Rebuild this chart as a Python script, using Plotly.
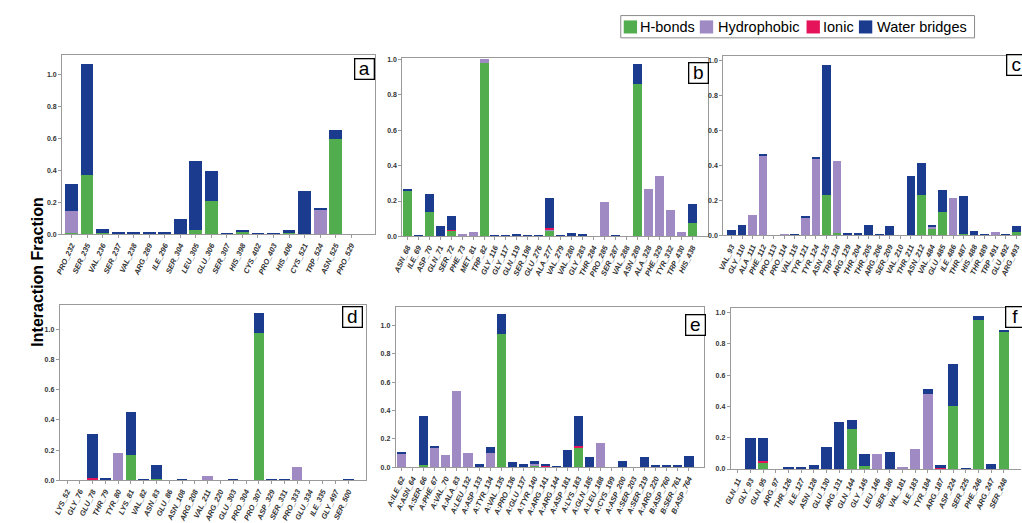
import plotly.graph_objects as go

W, H = 1022, 523

# ---- panel a ----
a_res = ["PRO_232", "SER_235", "VAL_236", "SER_237", "VAL_238", "ARG_289", "ILE_296", "SER_304",
         "LEU_305", "GLU_306", "SER_307", "HIS_398", "CYS_402", "PRO_403", "HIS_406", "CYS_521",
         "TRP_524", "ASN_525", "PRO_529"]
a_hb = [0.005, 0.373, 0.008, 0, 0, 0, 0, 0.004, 0.028, 0.21, 0, 0.018, 0, 0, 0.008, 0, 0, 0.593, 0]
a_hyd = [0.14, 0, 0, 0, 0, 0, 0, 0, 0, 0, 0, 0, 0, 0, 0, 0, 0.153, 0, 0]
a_ion = [0] * 19
a_wb = [0.172, 0.69, 0.026, 0.01, 0.008, 0.008, 0.01, 0.09, 0.43, 0.187, 0.004, 0.006, 0.003, 0.003,
        0.02, 0.268, 0.008, 0.056, 0]

# ---- panel b ----
b_res = ["ASN_68", "ILE_69", "ASP_70", "GLN_71", "SER_72", "PHE_73", "MET_81", "TRP_82", "GLY_116",
         "GLY_117", "GLN_119", "SER_198", "GLU_276", "ALA_277", "VAL_279", "VAL_280", "GLY_283",
         "THR_284", "PRO_285", "SER_287", "VAL_288", "ASN_289", "ALA_328", "PHE_329", "TYR_332",
         "TRP_430", "HIS_438"]
b_hb = [0.258, 0, 0.14, 0, 0.031, 0, 0, 0.982, 0, 0, 0, 0, 0, 0.031, 0, 0, 0, 0, 0, 0, 0, 0.862,
        0, 0, 0, 0, 0.077]
b_hyd = [0, 0, 0, 0, 0, 0.015, 0.027, 0.018, 0, 0, 0, 0, 0, 0.008, 0, 0, 0, 0, 0.195, 0, 0, 0,
         0.266, 0.344, 0.149, 0.027, 0]
b_ion = [0, 0, 0, 0, 0.006, 0, 0, 0, 0, 0, 0, 0, 0, 0.01, 0, 0, 0, 0, 0, 0, 0, 0, 0, 0, 0, 0, 0]
b_wb = [0.008, 0.008, 0.099, 0.057, 0.081, 0, 0, 0, 0.006, 0.004, 0.013, 0.008, 0.008, 0.168,
        0.004, 0.018, 0.014, 0, 0, 0.004, 0, 0.11, 0, 0, 0, 0, 0.109]

# ---- panel c ----
c_res = ["VAL_93", "GLY_110", "ALA_111", "PHE_112", "PRO_113", "PRO_114", "VAL_115", "TYR_121",
         "TYR_124", "ASN_125", "TRP_128", "ARG_129", "THR_204", "THR_205", "ARG_206", "SER_209",
         "VAL_210", "THR_211", "ASN_212", "VAL_484", "GLU_485", "ILE_486", "THR_487", "HIS_488",
         "THR_489", "TRP_491", "GLU_492", "ARG_493"]
c_hb = [0, 0, 0, 0, 0, 0, 0, 0, 0.003, 0.232, 0.017, 0, 0, 0, 0, 0, 0, 0, 0.23, 0.039, 0.134, 0,
        0.006, 0, 0, 0, 0, 0.022]
c_hyd = [0, 0, 0.116, 0.458, 0, 0.004, 0, 0.098, 0.433, 0, 0.407, 0, 0, 0, 0, 0, 0, 0, 0, 0.011,
         0, 0.215, 0, 0, 0, 0.02, 0, 0]
c_ion = [0] * 28
c_wb = [0.03, 0.06, 0, 0.01, 0, 0, 0.006, 0.014, 0.01, 0.74, 0, 0.012, 0.016, 0.06, 0.009, 0.052,
        0, 0.337, 0.186, 0.011, 0.128, 0, 0.219, 0.026, 0.006, 0, 0.008, 0.035]

# ---- panel d ----
d_res = ["LYS_52", "GLY_76", "GLU_78", "THR_79", "TYR_80", "LYS_81", "VAL_82", "ASN_83", "GLU_86",
         "ASN_108", "ARG_208", "VAL_211", "ARG_220", "GLU_303", "PRO_304", "PRO_307", "ASP_329",
         "SER_331", "PRO_333", "GLU_334", "ILE_335", "GLY_497", "SER_500"]
d_hb = [0, 0, 0.01, 0, 0, 0.169, 0, 0.006, 0, 0, 0, 0, 0, 0, 0, 0.974, 0, 0.004, 0, 0, 0, 0, 0]
d_hyd = [0, 0, 0, 0, 0.184, 0, 0, 0, 0, 0, 0, 0.028, 0, 0, 0, 0, 0, 0, 0.086, 0, 0, 0, 0]
d_ion = [0, 0, 0.004, 0, 0, 0, 0, 0, 0, 0, 0, 0, 0, 0, 0, 0, 0, 0, 0, 0, 0, 0, 0]
d_wb = [0.004, 0.004, 0.292, 0.012, 0, 0.283, 0.01, 0.092, 0.004, 0.006, 0.004, 0, 0.003, 0.006,
        0, 0.139, 0.005, 0.006, 0, 0.003, 0, 0.003, 0.005]

# ---- panel e ----
e_res = ["A:ILE_62", "A:ASN_64", "A:SER_66", "A:PHE_67", "A:VAL_70", "A:ALA_83", "A:LEU_132",
         "A:ASP_133", "A:TYR_134", "A:VAL_135", "A:PRO_136", "A:GLU_137", "A:TYR_140", "A:ARG_141",
         "A:ARG_144", "A:ASP_181", "A:LYS_183", "A:GLN_185", "A:LEU_188", "A:CYS_199", "A:ASP_200",
         "A:SER_203", "A:SER_219", "A:ARG_220", "B:ASP_760", "B:SER_761", "B:ASP_764"]
e_hb = [0, 0, 0.016, 0, 0, 0, 0, 0, 0, 0.941, 0, 0, 0.007, 0, 0, 0, 0.143, 0, 0, 0, 0, 0, 0, 0,
        0, 0, 0.006]
e_hyd = [0.1, 0, 0, 0.138, 0.089, 0.536, 0.098, 0, 0.1, 0, 0, 0, 0.016, 0, 0.006, 0, 0, 0, 0.173,
         0, 0, 0, 0, 0, 0, 0, 0]
e_ion = [0, 0, 0, 0, 0, 0, 0, 0, 0, 0, 0, 0, 0, 0.01, 0, 0, 0.005, 0, 0, 0, 0, 0, 0, 0, 0, 0, 0]
e_wb = [0.003, 0, 0.348, 0.008, 0, 0, 0, 0.025, 0.043, 0.141, 0.039, 0.023, 0.02, 0.017, 0.004,
        0.125, 0.213, 0.073, 0, 0, 0.043, 0, 0.07, 0.018, 0.014, 0.016, 0.071]

# ---- panel f ----
f_res = ["GLN_11", "GLY_93", "GLN_95", "ARG_97", "THR_126", "ILE_127", "ASN_128", "GLU_130",
         "ARG_131", "GLN_144", "GLY_145", "LEU_146", "SER_180", "VAL_181", "ILE_183", "TYR_184",
         "ARG_187", "ASP_224", "SER_225", "PHE_246", "ARG_247", "SER_248"]
f_hb = [0, 0, 0.042, 0, 0, 0, 0, 0, 0, 0.256, 0.017, 0, 0, 0, 0, 0, 0, 0.402, 0, 0.953, 0, 0.877]
f_hyd = [0, 0, 0, 0, 0, 0, 0, 0, 0, 0, 0, 0.097, 0, 0.01, 0.13, 0.48, 0, 0, 0, 0, 0, 0]
f_ion = [0, 0, 0.008, 0, 0, 0, 0, 0, 0, 0, 0, 0, 0, 0, 0, 0, 0.004, 0, 0, 0, 0, 0]
f_wb = [0, 0.2, 0.15, 0, 0.014, 0.014, 0.027, 0.14, 0.299, 0.057, 0.076, 0, 0.107, 0, 0, 0.033,
        0.021, 0.268, 0.006, 0.026, 0.031, 0.007]

series_names = ["H-bonds", "Hydrophobic", "Ionic", "Water bridges"]
series_colors = ["#52ad4f", "#9f8ac4", "#e5135a", "#1b3c8e"]

# panel: (letter, residues, [series], x-range, y-max, x-domain px, y-domain px (top, bottom), right frame)
panels = [
    ("a", a_res, [a_hb, a_hyd, a_ion, a_wb], [-0.61, 19.53], 1.119, (51.7, 368.3), (54, 239), True),
    ("b", b_res, [b_hb, b_hyd, b_ion, b_wb], [-0.45, 27.41], 1.005, (396, 705), (57.3, 241.3), True),
    ("c", c_res, [c_hb, c_hyd, c_ion, c_wb], [-0.78, 27.44], 1.024, (720.7, 1022), (55, 240.3), False),
    ("d", d_res, [d_hb, d_hyd, d_ion, d_wb], [-0.57, 23.39], 1.166, (49.3, 359.3), (311.7, 493.3), True),
    ("e", e_res, [e_hb, e_hyd, e_ion, e_wb], [-0.54, 27.4], 1.13, (389.3, 701.7), (314, 480), True),
    ("f", f_res, [f_hb, f_hyd, f_ion, f_wb], [-0.56, 22.35], 1.03, (728.3, 1022), (315, 481.7), False),
]

# letter box centres (px)
letter_pos = {"a": (357.5, 68), "b": (696, 72), "c": (1017, 64.5),
              "d": (345.5, 325), "e": (692.5, 332.5), "f": (1016, 325)}


def px(x):
    return x / W


def py(y):
    return 1 - y / H


fig = go.Figure()
layout = dict(
    width=W, height=H,
    margin=dict(l=0, r=0, t=0, b=0),
    paper_bgcolor="white", plot_bgcolor="white",
    barmode="stack", bargap=0.18,
    showlegend=False,
    font=dict(family="Liberation Sans", color="#222"),
    annotations=[], shapes=[],
)

for i, (letter, res, series, xr, ymax, (x0, x1), (yt, yb), right) in enumerate(panels):
    n = "" if i == 0 else str(i + 1)
    for name, color, vals in zip(series_names, series_colors, series):
        fig.add_trace(go.Bar(
            x=res, y=vals, name=name, marker=dict(color=color, line=dict(width=0)),
            xaxis="x" + n, yaxis="y" + n,
        ))
    layout["xaxis" + n] = dict(
        domain=[px(x0), min(px(x1), 1.0)], anchor="y" + n, type="category",
        range=xr, showline=True, mirror=True, linecolor="#9a9a9a", linewidth=1,
        showgrid=False, zeroline=False, ticks="outside", ticklen=3, tickcolor="#9a9a9a",
        tickangle=-65, tickfont=dict(size=7.5, style="italic", weight="bold", color="#333"),
    )
    layout["yaxis" + n] = dict(
        domain=[py(yb), py(yt)], anchor="x" + n,
        range=[0, ymax], showline=True, mirror=right, linecolor="#9a9a9a", linewidth=1,
        showgrid=False, zeroline=False, ticks="outside", ticklen=3, tickcolor="#9a9a9a",
        tickvals=[0, 0.2, 0.4, 0.6, 0.8, 1.0], tickformat=".1f",
        tickfont=dict(size=7, weight="bold", color="#333"),
    )
    cx, cy = letter_pos[letter]
    layout["annotations"].append(dict(
        x=px(cx), y=py(cy), xref="paper", yref="paper", text=letter, showarrow=False,
        xanchor="center", yanchor="middle", font=dict(size=19, color="black"),
        bgcolor="white", bordercolor="black", borderwidth=1.3, borderpad=0,
        width=18, height=19,
    ))

# shared y-axis title
layout["annotations"].append(dict(
    x=px(27), y=py(278), xref="paper", yref="paper", text="Interaction Fraction",
    textangle=-90, showarrow=False, xanchor="center", yanchor="middle",
    font=dict(size=16, weight="bold", color="black"),
))

# legend box with coloured keys
layout["shapes"].append(dict(type="rect", xref="paper", yref="paper",
                             x0=px(617), x1=px(975), y0=py(36), y1=py(13),
                             line=dict(color="#8a8a8a", width=1), fillcolor="white"))
legend_items = [(620, 636), (697, 715), (805, 822), (858, 876)]
for (kx, tx), name, color in zip(legend_items, series_names, series_colors):
    layout["shapes"].append(dict(type="rect", xref="paper", yref="paper",
                                 x0=px(kx), x1=px(kx + 13.5), y0=py(31.5), y1=py(18),
                                 line=dict(width=0), fillcolor=color))
    layout["annotations"].append(dict(
        x=px(tx - 1), y=py(24.5), xref="paper", yref="paper", text=name, showarrow=False,
        xanchor="left", yanchor="middle", font=dict(size=14.5, color="black"), borderpad=0,
    ))

fig.update_layout(**layout)
fig.write_html("out.html")
